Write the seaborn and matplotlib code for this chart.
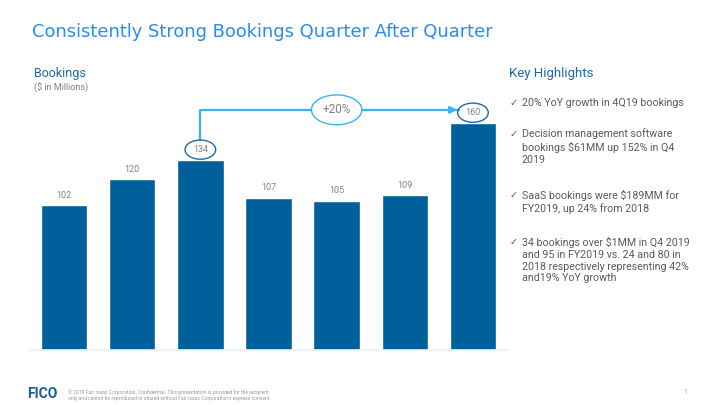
import matplotlib
matplotlib.use("Agg")
import matplotlib.pyplot as plt
from matplotlib.patches import Ellipse
import seaborn as sns
import pandas as pd

# Chart data
quarters = ["Q4 2018", "Q1 2019", "Q2 2019", "Q3 2019", "Q4 2019a", "Q4 2019b", "Q4 2019"]
bookings = [102, 120, 134, 107, 105, 109, 160]
growth_label = "+20%"
highlights = [
    "20% YoY growth in 4Q19 bookings",
    "Decision management software\nbookings $61MM up 152% in Q4\n2019",
    "SaaS bookings were $189MM for\nFY2019, up 24% from 2018",
    "34 bookings over $1MM in Q4 2019\nand 95 in FY2019 vs. 24 and 80 in\n2018 respectively representing 42%\nand19% YoY growth",
]

df = pd.DataFrame({"quarter": quarters, "bookings": bookings})

sns.set_style("white")
plt.rcParams["font.family"] = ["Roboto", "DejaVu Sans"]

bar_color = "#00609c"
light_blue = "#3cb2f5"
gray = "#808080"

fig = plt.figure(figsize=(7.2, 4.05), dpi=100)
ax = fig.add_axes([30 / 720, 55 / 405, 477 / 720, 270 / 405])
sns.barplot(data=df, x="quarter", y="bookings", color=bar_color, width=0.68,
            saturation=1, ax=ax)
ax.set_xlim(-0.5, 6.5)
ax.set_ylim(0, 190)
ax.set_xticks([])
ax.set_yticks([])
ax.set_xlabel("")
ax.set_ylabel("")
for side in ["top", "right", "left"]:
    ax.spines[side].set_visible(False)
ax.spines["bottom"].set_color("#eef1f4")
ax.spines["bottom"].set_linewidth(1.2)

# value labels
for i, v in enumerate(bookings):
    ax.text(i, v + 7, str(v), ha="center", va="center", fontsize=6.5,
            color=gray)

# circles round the compared bars
first, last = 2, len(bookings) - 1
for i in (first, last):
    ax.add_patch(Ellipse((i, bookings[i] + 7), 0.45, 13.5, fill=False,
                         edgecolor="#1f6aa5", linewidth=1, zorder=5))

# growth arrow
top_y = bookings[last] + 9
ax.plot([first, first, last - 0.2], [bookings[first] + 14, top_y, top_y],
        color=light_blue, linewidth=1.6, clip_on=False, zorder=3)
ax.annotate("", xy=(last - 0.19, top_y), xytext=(last - 0.4, top_y),
            arrowprops=dict(arrowstyle="-|>", color=light_blue, lw=1.6,
                            mutation_scale=10), zorder=4)
mid = (first + last) / 2
ax.add_patch(Ellipse((mid, top_y), 0.74, 21, facecolor="white",
                     edgecolor=light_blue, linewidth=1, zorder=6, clip_on=False))
ax.text(mid, top_y, growth_label, ha="center", va="center", fontsize=8.5,
        color=gray, zorder=7)

# title and headers
fig.text(32 / 720, 1 - 32 / 405, "Consistently Strong Bookings Quarter After Quarter",
         fontsize=12.9, color="#2b8cf2", va="center", family=["DejaVu Sans"])
fig.text(34 / 720, 1 - 73 / 405, "Bookings", fontsize=9, color="#1a6aa8", va="center")
fig.text(34 / 720, 1 - 88 / 405, "($ in Millions)", fontsize=6.5, color=gray, va="center")
fig.text(509 / 720, 1 - 73 / 405, "Key Highlights", fontsize=9.5, color="#1a6aa8",
         va="center")

# highlight bullets
tops = [103, 134, 195, 242]
for y, txt in zip(tops, highlights):
    fig.text(510 / 720, 1 - y / 405, "\u2713", fontsize=7, color="#1a6aa8",
             va="center", family=["DejaVu Sans"])
    fig.text(522 / 720, 1 - (y - 5.5) / 405, txt, fontsize=7.7, color="#5a5a5a",
             va="top", linespacing=1.24)

# footer
fig.text(27 / 720, 1 - 394 / 405, "FICO", fontsize=10, fontweight="bold",
         color="#1a5f9a", va="center")
fig.text(68 / 720, 1 - 395 / 405,
         "\u00a9 2019 Fair Isaac Corporation. Confidential. This presentation is provided for the recipient\n"
         "only and cannot be reproduced or shared without Fair Isaac Corporation's express consent.",
         fontsize=3.6, color="#999999", va="center", linespacing=1.3)
fig.text(683 / 720, 1 - 393 / 405, "1", fontsize=5, color="#aaaaaa", va="center")

fig.savefig("out.png", dpi=100)
